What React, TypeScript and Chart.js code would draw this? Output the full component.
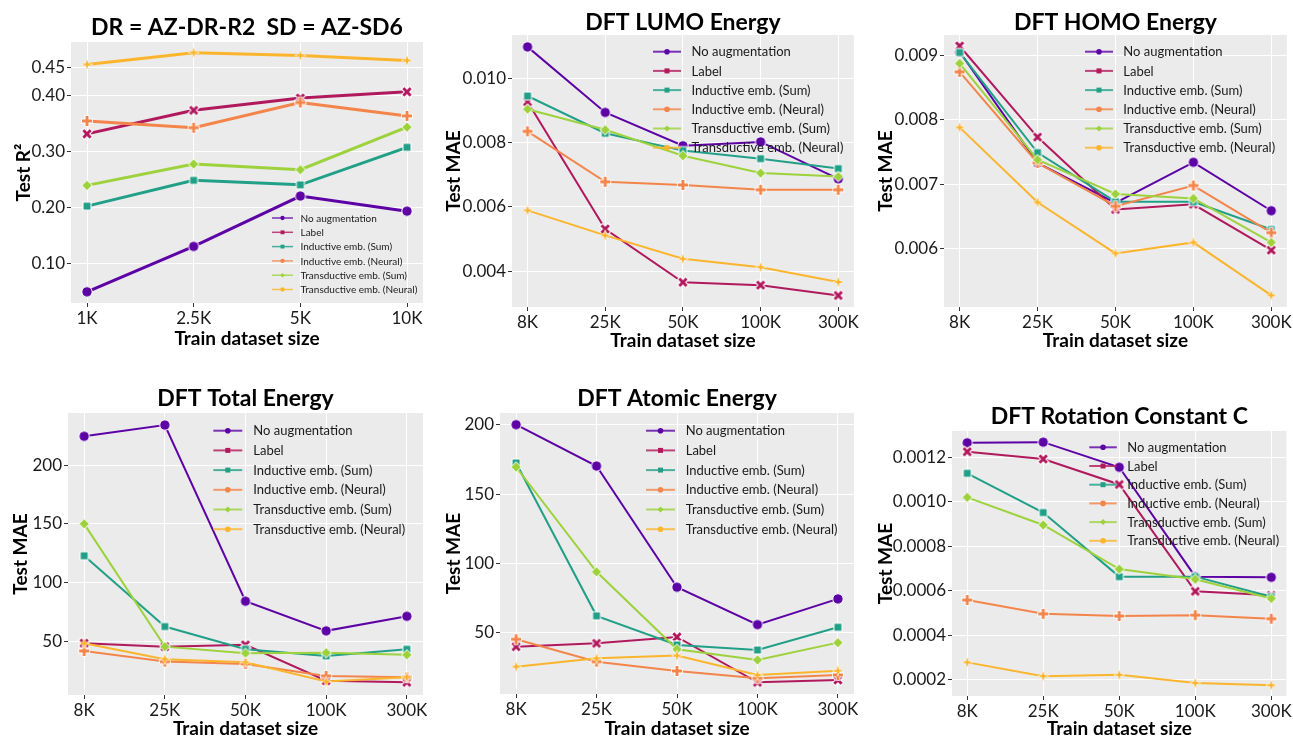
import React, { useEffect, useRef } from 'react';
import { Chart, registerables } from 'chart.js';

Chart.register(...registerables);

const FONT = 'Lato';

const seriesNames = [
  'No augmentation',
  'Label',
  'Inductive emb. (Sum)',
  'Inductive emb. (Neural)',
  'Transductive emb. (Sum)',
  'Transductive emb. (Neural)',
];
const seriesColors = ['#5d03a6', '#b1195d', '#22a087', '#f4854a', '#9dd23c', '#fbb52d'];
const markerShapes = ['circle', 'x', 'square', 'plus', 'diamond', 'star'];

const sizesSmall = ['1K', '2.5K', '5K', '10K'];
const sizesLarge = ['8K', '25K', '50K', '100K', '300K'];

const r2Values = [
  [0.049, 0.130, 0.220, 0.193],
  [0.331, 0.373, 0.395, 0.406],
  [0.202, 0.248, 0.240, 0.307],
  [0.354, 0.342, 0.387, 0.363],
  [0.239, 0.277, 0.267, 0.343],
  [0.455, 0.476, 0.471, 0.462],
];
const r2Ticks = [0.1, 0.2, 0.3, 0.4, 0.45];

const lumoValues = [
  [0.01098, 0.00894, 0.0079, 0.00802, 0.00687],
  [0.00927, 0.00531, 0.00365, 0.00356, 0.00324],
  [0.00945, 0.00829, 0.00775, 0.0075, 0.00719],
  [0.00835, 0.00678, 0.00668, 0.00653, 0.00653],
  [0.00904, 0.0084, 0.00759, 0.00705, 0.00694],
  [0.00589, 0.00511, 0.00438, 0.00412, 0.00366],
];
const lumoTicks = [0.004, 0.006, 0.008, 0.010];

const homoValues = [
  [0.00905, 0.00733, 0.00671, 0.00734, 0.00659],
  [0.00914, 0.00773, 0.00661, 0.00669, 0.00598],
  [0.00904, 0.00749, 0.00673, 0.00673, 0.0063],
  [0.00874, 0.00733, 0.00666, 0.00698, 0.00625],
  [0.00887, 0.00738, 0.00685, 0.00678, 0.0061],
  [0.00788, 0.00672, 0.00593, 0.0061, 0.00528],
];
const homoTicks = [0.006, 0.007, 0.008, 0.009];

const totalValues = [
  [224.4, 234, 84.3, 59.1, 71.5],
  [48.6, 45.7, 47.2, 16.8, 15.4],
  [122.9, 62.8, 43.5, 37.8, 43.5],
  [42, 33, 31, 20.8, 19.7],
  [150, 45.7, 40, 40.6, 38.7],
  [48.6, 35, 32.4, 16, 19.7],
];
const totalTicks = [50, 100, 150, 200];

const atomicValues = [
  [200, 170.2, 82.9, 56, 74.5],
  [40.1, 42.5, 47.1, 14.4, 16.1],
  [172.4, 62.3, 41.3, 37.7, 54.1],
  [45.4, 29.3, 22.6, 17.3, 19.7],
  [169.5, 94, 38.2, 30.5, 43],
  [25.7, 31.7, 33.7, 19.7, 22.8],
];
const atomicTicks = [50, 100, 150, 200];

const rotValues = [
  [0.001264, 0.001267, 0.001154, 0.000663, 0.00066],
  [0.001224, 0.001191, 0.001077, 0.000597, 0.000579],
  [0.001127, 0.000951, 0.000663, 0.000663, 0.000573],
  [0.000558, 0.000496, 0.000486, 0.00049, 0.000474],
  [0.001019, 0.000895, 0.000697, 0.000651, 0.000565],
  [0.000278, 0.000216, 0.000222, 0.000185, 0.000175],
];
const rotTicks = [0.0002, 0.0004, 0.0006, 0.0008, 0.001, 0.0012];

type Panel = {
  title: string;
  yTitle: string;
  labels: string[];
  values: number[][];
  yTicks: number[];
  decimals: number;
  yRange: [number, number];
  canvas: [number, number, number, number];
  plot: [number, number, number, number];
  titleBase: number;
  xTitleBase: number;
  yTitleBase: number;
  legend: { x: number; y: number; gap: number; len: number; textX: number; font: number; lw: number };
  lineWidth: number;
};

const panels: Panel[] = [
  {
    title: 'DR = AZ-DR-R2  SD = AZ-SD6', yTitle: 'Test R²', labels: sizesSmall, values: r2Values,
    yTicks: r2Ticks, decimals: 2, yRange: [0.029, 0.495],
    canvas: [0, 0, 430, 362], plot: [71, 42, 423, 303],
    titleBase: 35, xTitleBase: 345, yTitleBase: 30,
    legend: { x: 272, y: 218, gap: 14.3, len: 21, textX: 300.5, font: 10, lw: 1.5 },
    lineWidth: 3,
  },
  {
    title: 'DFT LUMO Energy', yTitle: 'Test MAE', labels: sizesLarge, values: lumoValues,
    yTicks: lumoTicks, decimals: 3, yRange: [0.00288, 0.01135],
    canvas: [430, 0, 430, 362], plot: [512, 35, 856, 307],
    titleBase: 30, xTitleBase: 346.5, yTitleBase: 460,
    legend: { x: 653, y: 51.7, gap: 19.2, len: 28, textX: 691.5, font: 13, lw: 2 },
    lineWidth: 2,
  },
  {
    title: 'DFT HOMO Energy', yTitle: 'Test MAE', labels: sizesLarge, values: homoValues,
    yTicks: homoTicks, decimals: 3, yRange: [0.0051, 0.00931],
    canvas: [860, 0, 433, 362], plot: [944, 35, 1288, 307],
    titleBase: 30, xTitleBase: 346.5, yTitleBase: 892,
    legend: { x: 1085, y: 51.7, gap: 19.2, len: 28, textX: 1123.3, font: 13, lw: 2 },
    lineWidth: 2,
  },
  {
    title: 'DFT Total Energy', yTitle: 'Test MAE', labels: sizesLarge, values: totalValues,
    yTicks: totalTicks, decimals: 0, yRange: [4.6, 244.2],
    canvas: [0, 365, 430, 372], plot: [68, 413, 423, 695],
    titleBase: 406, xTitleBase: 735, yTitleBase: 27,
    legend: { x: 213.3, y: 430.7, gap: 19.7, len: 29, textX: 253.3, font: 13, lw: 2 },
    lineWidth: 2,
  },
  {
    title: 'DFT Atomic Energy', yTitle: 'Test MAE', labels: sizesLarge, values: atomicValues,
    yTicks: atomicTicks, decimals: 0, yRange: [6, 208.4],
    canvas: [430, 365, 430, 372], plot: [500, 413, 855, 694],
    titleBase: 406, xTitleBase: 735, yTitleBase: 460,
    legend: { x: 646, y: 430.7, gap: 19.7, len: 29, textX: 685.7, font: 13, lw: 2 },
    lineWidth: 2,
  },
  {
    title: 'DFT Rotation Constant C', yTitle: 'Test MAE', labels: sizesLarge, values: rotValues,
    yTicks: rotTicks, decimals: 4, yRange: [0.000127, 0.001317],
    canvas: [860, 365, 433, 372], plot: [952, 431, 1288, 696],
    titleBase: 424, xTitleBase: 735, yTitleBase: 892,
    legend: { x: 1089.3, y: 447.3, gap: 18.7, len: 27.5, textX: 1127.3, font: 13, lw: 2 },
    lineWidth: 2,
  },
];

function makeMarker(shape: string, color: string, scale: number): HTMLCanvasElement {
  const s = 18;
  const c = document.createElement('canvas');
  c.width = s;
  c.height = s;
  const g = c.getContext('2d')!;
  const m = s / 2;
  g.fillStyle = color;
  g.strokeStyle = '#ffffff';
  if (shape === 'circle') {
    g.beginPath();
    g.arc(m, m, 5.2 * scale, 0, Math.PI * 2);
    g.fill();
    g.lineWidth = 1;
    g.stroke();
  } else if (shape === 'square') {
    const h = 4 * scale;
    g.fillRect(m - h, m - h, 2 * h, 2 * h);
    g.lineWidth = 1;
    g.strokeRect(m - h, m - h, 2 * h, 2 * h);
  } else if (shape === 'diamond') {
    const r = 5.3 * scale;
    g.beginPath();
    g.moveTo(m, m - r);
    g.lineTo(m + r, m);
    g.lineTo(m, m + r);
    g.lineTo(m - r, m);
    g.closePath();
    g.fill();
    g.lineWidth = 1;
    g.stroke();
  } else if (shape === 'x' || shape === 'plus') {
    const r = (shape === 'x' ? 3.7 : 5) * scale;
    const draw = (lw: number, col: string, ext: number) => {
      g.lineWidth = lw;
      g.strokeStyle = col;
      g.lineCap = 'butt';
      g.beginPath();
      const e = r + ext;
      if (shape === 'x') {
        g.moveTo(m - e, m - e);
        g.lineTo(m + e, m + e);
        g.moveTo(m + e, m - e);
        g.lineTo(m - e, m + e);
      } else {
        g.moveTo(m - e, m);
        g.lineTo(m + e, m);
        g.moveTo(m, m - e);
        g.lineTo(m, m + e);
      }
      g.stroke();
    };
    draw(4.8 * scale, '#ffffff', 0.8);
    draw(2.9 * scale, color, 0);
  } else if (shape === 'star') {
    const ro = 5.3 * scale;
    const ri = 1.6 * scale;
    g.beginPath();
    for (let k = 0; k < 8; k++) {
      const a = -Math.PI / 2 + (k * Math.PI) / 4;
      const r = k % 2 === 0 ? ro : ri;
      const px = m + r * Math.cos(a);
      const py = m + r * Math.sin(a);
      if (k === 0) g.moveTo(px, py);
      else g.lineTo(px, py);
    }
    g.closePath();
    g.lineWidth = 1;
    g.stroke();
    g.fill();
  }
  return c;
}

function hexAlpha(hex: string, a: number) {
  const r = parseInt(hex.slice(1, 3), 16);
  const gg = parseInt(hex.slice(3, 5), 16);
  const b = parseInt(hex.slice(5, 7), 16);
  return `rgba(${r},${gg},${b},${a})`;
}

function PanelChart({ p }: { p: Panel }) {
  const ref = useRef<HTMLCanvasElement>(null);
  useEffect(() => {
    const [cl, ct, cw, ch] = p.canvas;
    const [x0, y0, x1, y1] = p.plot;
    const n = p.labels.length;
    const span = n - 1;
    const decor = {
      id: 'decor',
      beforeDraw(chart: any) {
        const { ctx, chartArea: a } = chart;
        ctx.save();
        ctx.fillStyle = '#ebebeb';
        ctx.fillRect(a.left, a.top, a.right - a.left, a.bottom - a.top);
        ctx.restore();
      },
      afterDraw(chart: any) {
        const { ctx, chartArea: a } = chart;
        const cx = (a.left + a.right) / 2;
        ctx.save();
        ctx.fillStyle = '#000000';
        ctx.textAlign = 'center';
        ctx.textBaseline = 'alphabetic';
        ctx.font = `bold 23px ${FONT}`;
        ctx.fillText(p.title, cx, p.titleBase - ct);
        ctx.font = `bold 19px ${FONT}`;
        ctx.fillText('Train dataset size', cx, p.xTitleBase - ct);
        ctx.save();
        ctx.translate(p.yTitleBase - cl, (a.top + a.bottom) / 2);
        ctx.rotate(-Math.PI / 2);
        ctx.fillText(p.yTitle, 0, 0);
        ctx.restore();
        // legend
        const L = p.legend;
        ctx.font = `${L.font}px ${FONT}`;
        ctx.textAlign = 'left';
        ctx.textBaseline = 'middle';
        seriesNames.forEach((name, i) => {
          const y = L.y + i * L.gap - ct;
          const lx = L.x - cl;
          const col = seriesColors[i];
          ctx.strokeStyle = hexAlpha(col, 0.8);
          ctx.lineWidth = L.lw;
          ctx.beginPath();
          ctx.moveTo(lx, y);
          ctx.lineTo(lx + L.len, y);
          ctx.stroke();
          const mx = lx + L.len / 2;
          const ms = L.font / 13;
          ctx.fillStyle = col;
          ctx.beginPath();
          if (i === 1 || i === 2) {
            ctx.rect(mx - 2.5 * ms, y - 2.5 * ms, 5 * ms, 5 * ms);
          } else if (i === 4) {
            const r = 3 * ms;
            ctx.moveTo(mx, y - r);
            ctx.lineTo(mx + r, y);
            ctx.lineTo(mx, y + r);
            ctx.lineTo(mx - r, y);
            ctx.closePath();
          } else {
            ctx.arc(mx, y, 2.8 * ms, 0, Math.PI * 2);
          }
          ctx.fill();
          ctx.fillStyle = '#1a1a1a';
          ctx.fillText(name, L.textX - cl, y + 0.5);
        });
        ctx.restore();
      },
    };
    const tickFont = { family: FONT, size: 17 };
    const chart = new Chart(ref.current!, {
      type: 'line',
      data: {
        datasets: p.values.map((vals, i) => ({
          label: seriesNames[i],
          data: vals.map((v, k) => ({ x: k, y: v })),
          borderColor: seriesColors[i],
          backgroundColor: seriesColors[i],
          borderWidth: p.lineWidth,
          pointStyle: makeMarker(markerShapes[i], seriesColors[i], 1) as any,
          pointRadius: 4,
          tension: 0,
          fill: false,
          clip: false as any,
          order: 5 - i,
        })),
      },
      options: {
        responsive: false,
        animation: false,
        events: [],
        layout: { padding: { left: 0, top: y0 - ct, right: cl + cw - x1, bottom: 0 } },
        plugins: { legend: { display: false }, tooltip: { enabled: false }, title: { display: false } },
        scales: {
          x: {
            type: 'linear',
            min: -0.05 * span,
            max: span * 1.05,
            afterBuildTicks: (s: any) => {
              s.ticks = p.labels.map((_, i) => ({ value: i }));
            },
            afterFit: (s: any) => {
              s.height = ct + ch - y1;
            },
            ticks: {
              callback: (v: any) => p.labels[Math.round(Number(v))] ?? '',
              font: tickFont,
              color: '#1a1a1a',
              padding: 1,
              maxRotation: 0,
              autoSkip: false,
            },
            grid: { color: '#ffffff', lineWidth: 1, tickColor: '#333333', tickLength: 4 },
            border: { display: false },
          },
          y: {
            type: 'linear',
            min: p.yRange[0],
            max: p.yRange[1],
            afterBuildTicks: (s: any) => {
              s.ticks = p.yTicks.map((v) => ({ value: v }));
            },
            afterFit: (s: any) => {
              s.width = x0 - cl;
            },
            ticks: {
              callback: (v: any) => Number(v).toFixed(p.decimals),
              font: tickFont,
              color: '#1a1a1a',
              padding: 2,
            },
            grid: { color: '#ffffff', lineWidth: 1, tickColor: '#333333', tickLength: 4 },
            border: { display: false },
          },
        },
      },
      plugins: [decor as any],
    });
    return () => chart.destroy();
  }, [p]);
  const [cl, ct, cw, ch] = p.canvas;
  return (
    <canvas
      ref={ref}
      width={cw}
      height={ch}
      style={{ position: 'absolute', left: cl, top: ct, width: cw, height: ch }}
    />
  );
}

export default function App() {
  return (
    <div style={{ position: 'absolute', left: 0, top: 0, width: 1293, height: 737, overflow: 'hidden' }}>
      {panels.map((p, i) => (
        <PanelChart key={i} p={p} />
      ))}
    </div>
  );
}
